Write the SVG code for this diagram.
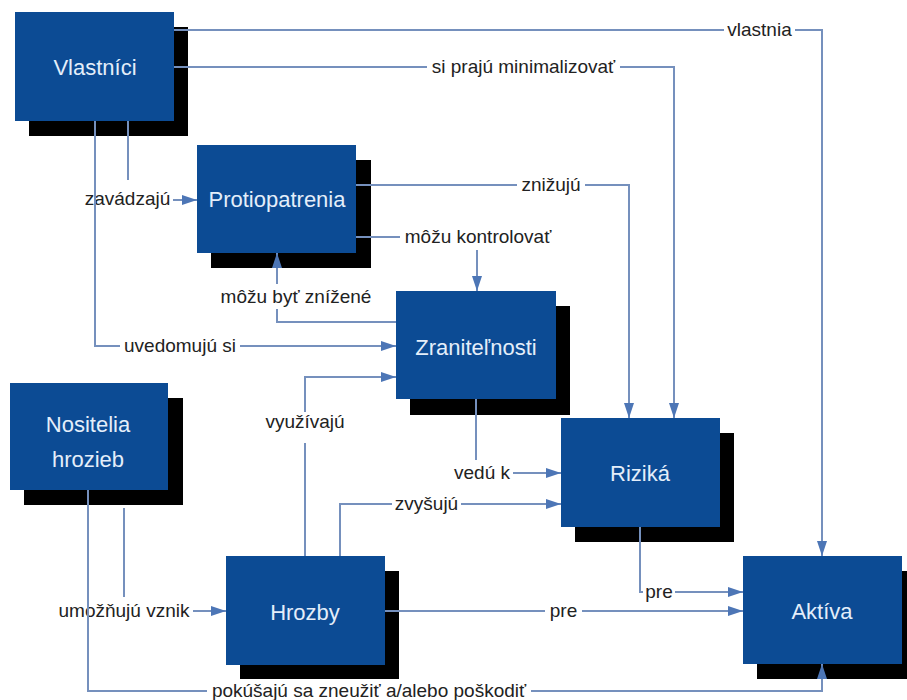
<svg xmlns="http://www.w3.org/2000/svg" width="907" height="700" viewBox="0 0 907 700">
  <style>
    .box { fill: #0c4b94; }
    .shadow { fill: #000; }
    .name { font-family: "Liberation Sans", Arial, sans-serif; font-size: 22px; fill: #e4eefa; text-anchor: middle; }
    .link { fill: none; stroke: #7590bd; stroke-width: 2; }
    .lbl { font-family: "Liberation Sans", Arial, sans-serif; font-size: 19px; fill: #222; text-anchor: middle; }
  </style>
  <defs>
    <marker id="arrow" markerUnits="userSpaceOnUse" markerWidth="15" markerHeight="10" refX="15" refY="5" orient="auto">
      <path d="M0,0 L15,5 L0,10 z" fill="#4d76b6"/>
    </marker>
  </defs>
  <rect width="907" height="700" fill="#fff"/>

  <!-- nodes -->
  <g id="vlastnici">
    <rect class="shadow" x="29" y="27" width="159" height="109"/>
    <rect class="box" x="15" y="12" width="159" height="109"/>
    <text class="name" x="95" y="75">Vlastníci</text>
  </g>
  <g id="protiopatrenia">
    <rect class="shadow" x="211" y="160" width="160" height="108"/>
    <rect class="box" x="197" y="145" width="159" height="108"/>
    <text class="name" x="277" y="207">Protiopatrenia</text>
  </g>
  <g id="zranitelnosti">
    <rect class="shadow" x="410" y="306" width="160" height="109"/>
    <rect class="box" x="396" y="291" width="160" height="108"/>
    <text class="name" x="476" y="355">Zraniteľnosti</text>
  </g>
  <g id="rizika">
    <rect class="shadow" x="575" y="433" width="159" height="109"/>
    <rect class="box" x="561" y="418" width="159" height="109"/>
    <text class="name" x="640" y="481">Riziká</text>
  </g>
  <g id="nositelia">
    <rect class="shadow" x="24" y="398" width="159" height="107"/>
    <rect class="box" x="10" y="383" width="158" height="107"/>
    <text class="name" x="88" y="432">Nositelia</text>
    <text class="name" x="88" y="467">hrozieb</text>
  </g>
  <g id="hrozby">
    <rect class="shadow" x="240" y="571" width="159" height="108"/>
    <rect class="box" x="226" y="556" width="159" height="109"/>
    <text class="name" x="305" y="620">Hrozby</text>
  </g>
  <g id="aktiva">
    <rect class="shadow" x="757" y="571" width="159" height="108"/>
    <rect class="box" x="743" y="556" width="159" height="108"/>
    <text class="name" x="822" y="619">Aktíva</text>
  </g>

  <!-- connectors -->
  <g id="connectors">
    <!-- vlastnia -->
    <path class="link" d="M174,30 H724"/>
    <path class="link" d="M795,30 H822 V556" marker-end="url(#arrow)"/>
    <text class="lbl" x="759.5" y="36">vlastnia</text>

    <!-- si prajú minimalizovať -->
    <path class="link" d="M174,67 H427"/>
    <path class="link" d="M620,67 H674 V418" marker-end="url(#arrow)"/>
    <text class="lbl" x="523.5" y="73">si prajú minimalizovať</text>

    <!-- zavádzajú -->
    <path class="link" d="M128,121 V180"/>
    <path class="link" d="M173,200 H197" marker-end="url(#arrow)"/>
    <text class="lbl" x="127.5" y="205">zavádzajú</text>

    <!-- uvedomujú si -->
    <path class="link" d="M95,121 V346 H120"/>
    <path class="link" d="M240,346 H396" marker-end="url(#arrow)"/>
    <text class="lbl" x="180" y="352">uvedomujú si</text>

    <!-- znižujú -->
    <path class="link" d="M356,185 H517"/>
    <path class="link" d="M585,185 H629 V418" marker-end="url(#arrow)"/>
    <text class="lbl" x="551" y="191">znižujú</text>

    <!-- môžu kontrolovať -->
    <path class="link" d="M356,237 H400"/>
    <path class="link" d="M477,250 V291" marker-end="url(#arrow)"/>
    <text class="lbl" x="478" y="243">môžu kontrolovať</text>

    <!-- môžu byť znížené -->
    <path class="link" d="M396,322 H277 V309"/>
    <path class="link" d="M277,284 V253" marker-end="url(#arrow)"/>
    <text class="lbl" x="296" y="303">môžu byť znížené</text>

    <!-- vedú k -->
    <path class="link" d="M476,399 V460"/>
    <path class="link" d="M513,473 H561" marker-end="url(#arrow)"/>
    <text class="lbl" x="482" y="479">vedú k</text>

    <!-- využívajú -->
    <path class="link" d="M305,556 V443"/>
    <path class="link" d="M305,412 V377 H396" marker-end="url(#arrow)"/>
    <text class="lbl" x="305" y="428">využívajú</text>

    <!-- zvyšujú -->
    <path class="link" d="M340,556 V504 H392"/>
    <path class="link" d="M461,504 H561" marker-end="url(#arrow)"/>
    <text class="lbl" x="426.5" y="510">zvyšujú</text>

    <!-- umožňujú vznik -->
    <path class="link" d="M124,508 V597"/>
    <path class="link" d="M193,611 H226" marker-end="url(#arrow)"/>
    <text class="lbl" x="124" y="617">umožňujú vznik</text>

    <!-- pre (Hrozby) -->
    <path class="link" d="M385,611 H545"/>
    <path class="link" d="M582,611 H743" marker-end="url(#arrow)"/>
    <text class="lbl" x="563.5" y="617">pre</text>

    <!-- pre (Riziká) -->
    <path class="link" d="M640,527 V592 H643"/>
    <path class="link" d="M675,592 H743" marker-end="url(#arrow)"/>
    <text class="lbl" x="659" y="598">pre</text>

    <!-- pokúšajú sa zneužiť a/alebo poškodiť -->
    <path class="link" d="M88,490 V691 H207"/>
    <path class="link" d="M531,691 H822 V664" marker-end="url(#arrow)"/>
    <text class="lbl" x="369" y="697">pokúšajú sa zneužiť a/alebo poškodiť</text>
  </g>
</svg>
